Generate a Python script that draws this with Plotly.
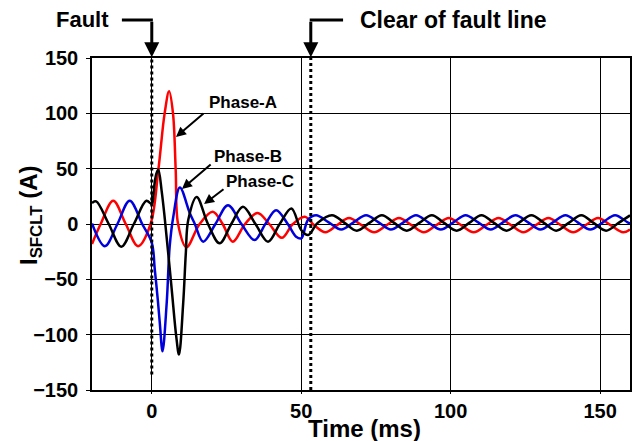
import plotly.graph_objects as go

# ---- data (time in ms, current in A) ----
t_a = [-20, -17.1, -12.9, -8.7, -4.6, -0.4, 2.2, 4.3, 5.8, 7.1, 8.0, 8.8, 11.6, 16.0, 20.4, 23.7,
       27.1, 31.2, 35.4, 39.3, 43.5, 47.2, 51.2, 54.3, 58.1, 62.0, 66.0, 70.2, 74.4, 78.6, 82.7,
       86.9, 91.0, 95.2, 99.4, 103.5, 107.7, 111.9, 116.0, 120.2, 124.3, 128.5, 132.7, 136.8,
       141.0, 145.2, 149.3, 153.5, 157.7, 160]
i_a = [-18, 0, 21, 0, -20, 0, 49, 100, 120, 100, 49, 0, -21, 0, 11, 0,
       -16, 0, 10, 0, -12.5, 0, 6.6, -1, -7.5, -1, 5.5, -1, -7.5, -1, 5.5,
       -1, -7.5, -1, 5.5, -1, -7.5, -1, 5.5, -1, -7.5, -1, 5.5, -1,
       -7.5, -1, 5.5, -1, -7.5, -5]

t_b = [-20, -15.7, -11.5, -7.4, -3.2, 0, 1.0, 2.1, 2.7, 3.6, 5.0, 6.0, 7.2, 9.4, 12.7, 14.4,
       17.2, 21.3, 25.5, 30.0, 34.4, 38.0, 41.6, 45.5, 48.3, 50.0, 52.3, 55.0, 59.2, 63.4,
       67.5, 71.7, 75.9, 80.0, 84.2, 88.4, 92.5, 96.7, 100.9, 105.0, 109.2, 113.4, 117.5,
       121.7, 125.9, 130.0, 134.2, 138.4, 142.5, 146.7, 150.9, 155.0, 159.2, 160]
i_b = [0.5, -20, 0, 21, 0, -17, -41, -71, -90, -115, -71, -20, 6.6, 33, 10, 0,
       -16, 0, 17, 0, -14.5, 0, 12.5, 0, -11.5, -13, 4, 8, 1.5, -5,
       1.5, 8, 1.5, -5, 1.5, 8, 1.5, -5, 1.5, 8, 1.5, -5, 1.5,
       8, 1.5, -5, 1.5, 8, 1.5, -5, 1.5, 8, 1.5, 0.5]

t_c = [-20, -18.6, -14.4, -10.2, -6.0, -1.8, 0, 0.5, 1.0, 1.6, 2.2, 3.3, 4.4, 6.6, 8.2, 9.1,
       10.5, 11.4, 12.2, 15.0, 18.8, 22.7, 26.6, 30.5, 34.7, 38.9, 42.8, 46.7, 50.0, 52.3,
       55.5, 60.3, 64.5, 68.6, 72.8, 77.0, 81.1, 85.3, 89.5, 93.7, 97.8, 102.0, 106.2, 110.3,
       114.5, 118.7, 122.8, 127.0, 131.2, 135.3, 139.5, 143.7, 147.8, 152.0, 156.2, 160]
i_c = [19, 20.5, 0, -20.5, 0, 21, 18, 25, 38, 46, 49, 30, 3.6, -57, -102, -118,
       -72, -26, 3.6, 24.5, 0, -17.5, 0, 15.6, 0, -16, 0, 14, -5.4, -10,
       1, 8, 1, -6, 1, 8, 1, -6, 1, 8, 1, -6, 1, 8,
       1, -6, 1, 8, 1, -6, 1, 8, 1, -6, 1, 7.8]

x_ticks = [0, 50, 100, 150]
y_ticks = [-150, -100, -50, 0, 50, 100, 150]
fault_t = 0
clear_t = 53.2
x_range = [-20, 160]
y_range = [-150, 150]

FONT = "Liberation Sans, Arial, sans-serif"

fig = go.Figure()
for t, i, c, name in [(t_a, i_a, "#FF0000", "Phase-A"),
                      (t_b, i_b, "#0000DD", "Phase-B"),
                      (t_c, i_c, "#000000", "Phase-C")]:
    fig.add_trace(go.Scatter(x=t, y=i, mode="lines", name=name,
                             line=dict(color=c, width=2.5, shape="spline", smoothing=1.0),
                             showlegend=False))

def px_of(t):
    return (t - x_range[0]) / (x_range[1] - x_range[0])

# dotted event lines
fig.add_shape(type="line", xref="x", yref="y", x0=fault_t, x1=fault_t, y0=-136, y1=150,
              line=dict(color="black", width=3, dash="dot"), layer="above")
fig.add_shape(type="line", xref="x", yref="y", x0=clear_t, x1=clear_t, y0=-150, y1=150,
              line=dict(color="black", width=3, dash="dot"), layer="above")

# L-shaped arrows above plot
yh = (390 - 20) / 332.0
fig.add_shape(type="line", xref="paper", yref="paper", x0=px_of(-10), x1=px_of(fault_t) + 0.002,
              y0=yh, y1=yh, line=dict(color="black", width=3))
fig.add_shape(type="line", xref="paper", yref="paper", x0=px_of(clear_t) - 0.002, x1=px_of(64),
              y0=yh, y1=yh, line=dict(color="black", width=3))
for xt in [fault_t, clear_t]:
    fig.add_annotation(xref="paper", yref="paper", x=px_of(xt), y=1.002, text="",
                       showarrow=True, ax=0, ay=-37, arrowhead=2, arrowsize=1,
                       arrowwidth=3, arrowcolor="black", standoff=0)

fig.add_annotation(xref="paper", yref="paper", x=(82 - 92) / 538.0, y=yh, text="<b>Fault</b>",
                   showarrow=False, font=dict(family=FONT, size=22, color="black"),
                   xanchor="center", yanchor="middle")
fig.add_annotation(xref="paper", yref="paper", x=(454 - 92) / 538.0, y=yh,
                   text="<b>Clear of fault line</b>", showarrow=False,
                   font=dict(family=FONT, size=23, color="black"),
                   xanchor="center", yanchor="middle")

# phase labels with arrows
labels = [("Phase-A", 30.5, 110, 17.8, 101, 8.1, 78.6),
          ("Phase-B", 32.3, 60.6, 20.2, 55, 10.1, 31.6),
          ("Phase-C", 36.3, 38, 24.5, 32.5, 17.5, 18)]
for txt, tx, ty, x0, y0, x1, y1 in labels:
    fig.add_annotation(x=tx, y=ty, text="<b>%s</b>" % txt, showarrow=False,
                       font=dict(family=FONT, size=17, color="black"),
                       xanchor="center", yanchor="middle")
    fig.add_annotation(x=x1, y=y1, ax=x0, ay=y0, axref="x", ayref="y", text="",
                       showarrow=True, arrowhead=2, arrowsize=1, arrowwidth=2,
                       arrowcolor="black", standoff=0)

# axis titles
fig.add_annotation(xref="paper", yref="paper", x=(364 - 92) / 538.0, y=(390 - 429) / 332.0,
                   text="<b>Time (ms)</b>", showarrow=False,
                   font=dict(family=FONT, size=24, color="black"),
                   xanchor="center", yanchor="middle")
fig.add_annotation(xref="paper", yref="paper", x=(30 - 92) / 538.0, y=(390 - 216) / 332.0,
                   text="<b>I<sub>SFCLT</sub> (A)</b>", showarrow=False, textangle=-90,
                   font=dict(family=FONT, size=24, color="black"),
                   xanchor="center", yanchor="middle")

axis_common = dict(showgrid=True, gridcolor="black", gridwidth=1, zeroline=False,
                   showline=True, mirror=True, linecolor="black", linewidth=1.5,
                   ticks="outside", tickcolor="black", automargin=False,
                   tickfont=dict(family=FONT, size=20, color="black", weight="bold"))
fig.update_xaxes(range=x_range, tickvals=x_ticks, ticklen=2, **axis_common)
fig.update_yaxes(range=y_range, tickvals=y_ticks, ticklen=4, ticklabelstandoff=4, **axis_common)

fig.update_layout(width=633, height=441, margin=dict(l=92, r=3, t=58, b=51),
                  plot_bgcolor="white", paper_bgcolor="white",
                  font=dict(family=FONT, color="black"))

fig.write_html("out.html", config={"displayModeBar": False},
               post_script="document.body.style.margin='0';document.body.style.padding='0';")
